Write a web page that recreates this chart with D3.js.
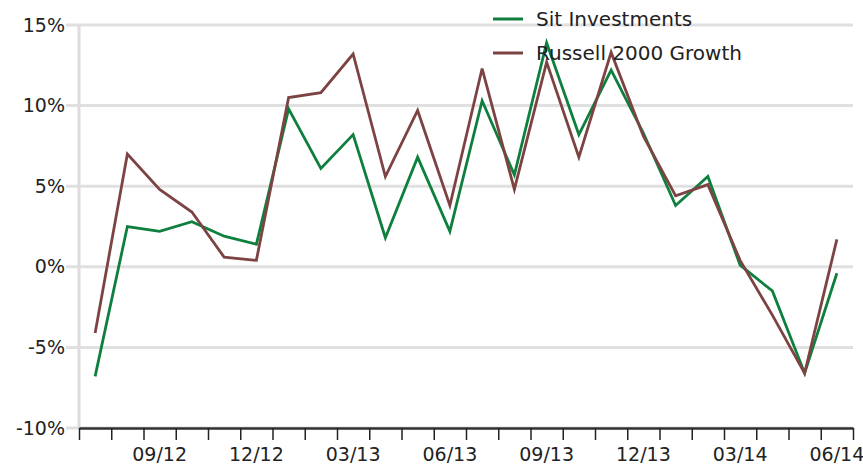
<!DOCTYPE html>
<meta charset="utf-8">
<style>
  body { margin: 0; background: #fff; }
  svg text { font-family: "DejaVu Sans", Verdana, sans-serif; fill: #222; }
</style>
<script src="https://d3js.org/d3.v7.min.js"></script>
<div id="chart"></div>
<script>
  // months shown on the x axis (07/12 .. 06/14)
  var months = ["07/12", "08/12", "09/12", "10/12", "11/12", "12/12",
    "01/13", "02/13", "03/13", "04/13", "05/13", "06/13",
    "07/13", "08/13", "09/13", "10/13", "11/13", "12/13",
    "01/14", "02/14", "03/14", "04/14", "05/14", "06/14"];
  var labelledMonths = ["09/12", "12/12", "03/13", "06/13", "09/13", "12/13", "03/14", "06/14"];

  // returns in percent
  var sitInvestments = [-6.8, 2.5, 2.2, 2.8, 1.9, 1.4, 9.8, 6.1, 8.2, 1.8, 6.8, 2.2,
    10.3, 5.7, 13.9, 8.2, 12.2, 8.3, 3.8, 5.6, 0.1, -1.5, -6.6, -0.4];
  var russell2000 = [-4.1, 7.0, 4.8, 3.4, 0.6, 0.4, 10.5, 10.8, 13.2, 5.6, 9.7, 3.8,
    12.3, 4.8, 12.7, 6.8, 13.3, 8.1, 4.4, 5.1, 0.4, -3.0, -6.6, 1.7];
  var yTicks = [-10, -5, 0, 5, 10, 15];

  var series = [
    { name: "Sit Investments", values: sitInvestments, color: "#0e7f3d" },
    { name: "Russell 2000 Growth", values: russell2000, color: "#7d4343" }
  ];

  var W = 863, H = 464;
  var plotLeft = 79, plotRight = 853, plotTop = 25, plotBottom = 428;

  var svg = d3.select("#chart").append("svg")
    .attr("width", W).attr("height", H);

  var x = d3.scaleBand().domain(months).range([plotLeft, plotRight]);
  var xEdge = d3.scaleLinear().domain([0, months.length]).range([plotLeft, plotRight]);
  var y = d3.scaleLinear().domain([-10, 15]).range([plotBottom, plotTop]);

  // gridlines
  svg.append("g").selectAll("line")
    .data(yTicks).enter().append("line")
    .attr("x1", 66).attr("x2", plotRight)
    .attr("y1", function (d) { return y(d) }).attr("y2", function (d) { return y(d) })
    .attr("stroke", "#e0e0e0").attr("stroke-width", 3);

  // y axis line
  svg.append("line")
    .attr("x1", plotLeft).attr("x2", plotLeft).attr("y1", plotTop).attr("y2", plotBottom)
    .attr("stroke", "#dcdcdc").attr("stroke-width", 3);

  // y labels
  svg.append("g").selectAll("text")
    .data(yTicks).enter().append("text")
    .attr("x", 65).attr("y", function (d) { return y(d) })
    .attr("dy", "0.35em")
    .attr("text-anchor", "end")
    .style("font-size", "19px")
    .text(function (d) { return d + "%" });

  // x axis with ticks on month boundaries
  var xAxis = svg.append("g")
    .attr("transform", "translate(0," + plotBottom + ")")
    .call(d3.axisBottom(xEdge).tickValues(d3.range(months.length + 1)).tickFormat("").tickSize(12).tickSizeOuter(0));
  xAxis.select(".domain").attr("stroke", "#333").attr("stroke-width", 2.5);
  xAxis.selectAll(".tick line").attr("stroke", "#222").attr("stroke-width", 1.5);

  svg.append("g").selectAll("text")
    .data(labelledMonths).enter().append("text")
    .attr("x", function (d) { return x(d) + x.bandwidth() / 2 })
    .attr("y", 461)
    .attr("text-anchor", "middle")
    .style("font-size", "19px")
    .text(function (d) { return d });

  // lines
  var line = d3.line()
    .x(function (d, i) { return x(months[i]) + x.bandwidth() / 2 })
    .y(function (d) { return y(d) });

  series.forEach(function (s) {
    svg.append("path")
      .datum(s.values)
      .attr("d", line)
      .attr("fill", "none")
      .attr("stroke", s.color)
      .attr("stroke-width", 2.8)
      .attr("stroke-linejoin", "miter");
  });

  // legend
  var legend = svg.append("g").selectAll("g")
    .data(series).enter().append("g")
    .attr("transform", function (d, i) { return "translate(493," + (19 + i * 34) + ")" });
  legend.append("line")
    .attr("x1", 0).attr("x2", 30)
    .attr("stroke", function (d) { return d.color })
    .attr("stroke-width", 3);
  legend.append("text")
    .attr("x", 43).attr("y", 6.5)
    .style("font-size", "20px")
    .text(function (d) { return d.name });
</script>
